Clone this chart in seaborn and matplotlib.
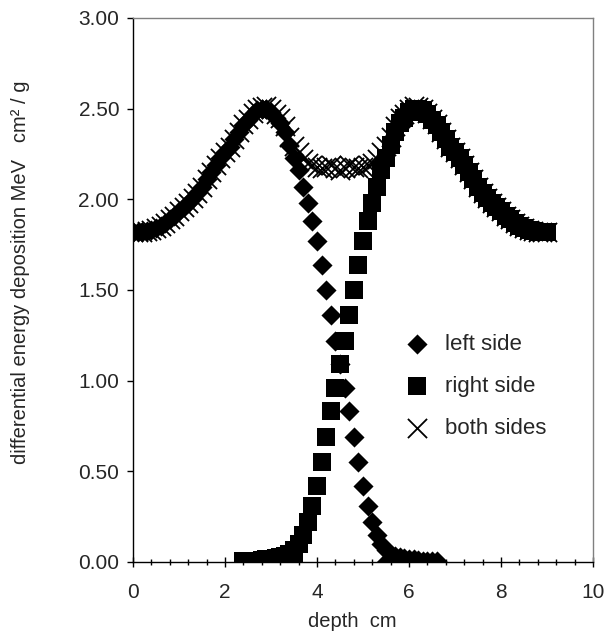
import numpy as np
import matplotlib
matplotlib.use("Agg")
import matplotlib.pyplot as plt
from matplotlib.ticker import MultipleLocator, FormatStrFormatter
import seaborn as sns

sns.set_theme(style="ticks")
plt.rcParams['font.family'] = ['Liberation Sans', 'DejaVu Sans']

#%% datos (depth en cm, energia en MeV cm2/g)

left_depth = [0.0, 0.1, 0.2, 0.3, 0.4, 0.5, 0.6, 0.7, 0.8, 0.9,
              1.0, 1.1, 1.2, 1.3, 1.4, 1.5, 1.6, 1.7, 1.8, 1.9,
              2.0, 2.1, 2.2, 2.3, 2.4, 2.5, 2.6, 2.7, 2.8, 2.9,
              3.0, 3.1, 3.2, 3.3, 3.4, 3.5, 3.6, 3.7, 3.8, 3.9,
              4.0, 4.1, 4.2, 4.3, 4.4, 4.5, 4.6, 4.7, 4.8, 4.9,
              5.0, 5.1, 5.2, 5.3, 5.4, 5.5, 5.6, 5.7, 5.8, 5.9,
              6.0, 6.1, 6.2, 6.3, 6.4, 6.5, 6.6, 5.5]
left_val = [1.82, 1.82, 1.82, 1.825, 1.83, 1.84, 1.855, 1.87, 1.89, 1.91,
            1.935, 1.955, 1.98, 2.005, 2.035, 2.07, 2.11, 2.15, 2.19, 2.23,
            2.26, 2.29, 2.33, 2.37, 2.41, 2.44, 2.47, 2.49, 2.50, 2.50,
            2.48, 2.45, 2.42, 2.37, 2.30, 2.23, 2.16, 2.07, 1.98, 1.88,
            1.77, 1.64, 1.50, 1.36, 1.22, 1.09, 0.96, 0.83, 0.69, 0.55,
            0.42, 0.31, 0.22, 0.15, 0.10, 0.065, 0.045, 0.035, 0.028, 0.022,
            0.018, 0.014, 0.011, 0.008, 0.006, 0.004, 0.003, 0.0]

right_depth = [2.4, 2.5, 2.6, 2.7, 2.8, 2.9,
               3.0, 3.1, 3.2, 3.3, 3.4, 3.5, 3.6, 3.7, 3.8, 3.9,
               4.0, 4.1, 4.2, 4.3, 4.4, 4.5, 4.6, 4.7, 4.8, 4.9,
               5.0, 5.1, 5.2, 5.3, 5.4, 5.5, 5.6, 5.7, 5.8, 5.9,
               6.0, 6.1, 6.2, 6.3, 6.4, 6.5, 6.6, 6.7, 6.8, 6.9,
               7.0, 7.1, 7.2, 7.3, 7.4, 7.5, 7.6, 7.7, 7.8, 7.9,
               8.0, 8.1, 8.2, 8.3, 8.4, 8.5, 8.6, 8.7, 8.8, 8.9,
               9.0, 3.5]
right_val = [0.003, 0.004, 0.006, 0.008, 0.011, 0.014,
             0.018, 0.022, 0.028, 0.035, 0.045, 0.065, 0.10, 0.15, 0.22, 0.31,
             0.42, 0.55, 0.69, 0.83, 0.96, 1.09, 1.22, 1.36, 1.50, 1.64,
             1.77, 1.88, 1.98, 2.07, 2.16, 2.23, 2.30, 2.37, 2.42, 2.45,
             2.48, 2.50, 2.50, 2.49, 2.47, 2.44, 2.41, 2.37, 2.33, 2.29,
             2.26, 2.23, 2.19, 2.15, 2.11, 2.07, 2.035, 2.005, 1.98, 1.955,
             1.935, 1.91, 1.89, 1.87, 1.855, 1.84, 1.83, 1.825, 1.82, 1.82,
             1.82, 0.0]

both_depth = [0.0, 0.1, 0.2, 0.3, 0.4, 0.5, 0.6, 0.7, 0.8, 0.9,
              1.0, 1.1, 1.2, 1.3, 1.4, 1.5, 1.6, 1.7, 1.8, 1.9,
              2.0, 2.1, 2.2, 2.3, 2.4, 2.5, 2.6, 2.7, 2.8, 2.9,
              3.0, 3.1, 3.2, 3.3, 3.4, 3.5, 3.6, 3.7, 3.8, 3.9,
              4.0, 4.1, 4.2, 4.3, 4.4, 4.5, 4.6, 4.7, 4.8, 4.9,
              5.0, 5.1, 5.2, 5.3, 5.4, 5.5, 5.6, 5.7, 5.8, 5.9,
              6.0, 6.1, 6.2, 6.3, 6.4, 6.5, 6.6, 6.7, 6.8, 6.9,
              7.0, 7.1, 7.2, 7.3, 7.4, 7.5, 7.6, 7.7, 7.8, 7.9,
              8.0, 8.1, 8.2, 8.3, 8.4, 8.5, 8.6, 8.7, 8.8, 8.9, 9.0]
both_val = [1.82, 1.82, 1.82, 1.825, 1.83, 1.84, 1.855, 1.87, 1.89, 1.91,
            1.935, 1.955, 1.98, 2.005, 2.035, 2.07, 2.11, 2.15, 2.19, 2.23,
            2.26, 2.29, 2.33, 2.37, 2.413, 2.444, 2.476, 2.498, 2.511, 2.514,
            2.498, 2.472, 2.448, 2.405, 2.345, 2.295, 2.26, 2.22, 2.20, 2.19,
            2.18, 2.17, 2.18, 2.19, 2.17, 2.16, 2.17, 2.19, 2.18, 2.17,
            2.18, 2.19, 2.20, 2.22, 2.26, 2.295, 2.345, 2.405, 2.448, 2.472,
            2.498, 2.514, 2.511, 2.498, 2.476, 2.444, 2.413, 2.37, 2.33, 2.29,
            2.26, 2.23, 2.19, 2.15, 2.11, 2.07, 2.035, 2.005, 1.98, 1.955,
            1.935, 1.91, 1.89, 1.87, 1.855, 1.84, 1.83, 1.825, 1.82, 1.82, 1.82]

#%% figura

fig = plt.figure(figsize=(6.06, 6.36), dpi=100)
ax = fig.add_axes([0.2195, 0.1164, 0.759, 0.8553])

sns.scatterplot(x=left_depth, y=left_val, marker="D", s=105, color="black",
                linewidth=0, label="left side", legend=False, ax=ax)
sns.scatterplot(x=right_depth, y=right_val, marker="s", s=165, color="black",
                linewidth=0, label="right side", legend=False, ax=ax)
sns.scatterplot(x=both_depth, y=both_val, marker="x", s=190, color="black",
                linewidth=1.3, label="both sides", legend=False, ax=ax)

ax.set_xlim(0, 10)
ax.set_ylim(0, 3)
ax.xaxis.set_major_locator(MultipleLocator(2))
ax.xaxis.set_minor_locator(MultipleLocator(0.4))
ax.yaxis.set_major_locator(MultipleLocator(0.5))
ax.yaxis.set_major_formatter(FormatStrFormatter('%.2f'))

ax.tick_params(axis='x', which='major', direction='inout', length=7, width=1,
               labelsize=15, pad=12, color='black')
ax.tick_params(axis='x', which='minor', direction='inout', length=4, width=1,
               color='black')
ax.tick_params(axis='y', which='major', direction='out', length=4, width=1,
               labelsize=15, pad=6, color='black')

for s in ['left', 'bottom']:
    ax.spines[s].set_color('black')
    ax.spines[s].set_linewidth(1)
for s in ['top', 'right']:
    ax.spines[s].set_color('#808080')
    ax.spines[s].set_linewidth(1)

ax.set_xlabel("depth  cm", fontsize=14.5, va='center')
ax.xaxis.set_label_coords(0.476, -0.110)
ax.set_ylabel("differential energy deposition MeV   cm\u00b2 / g", fontsize=14.5, va='center')
ax.yaxis.set_label_coords(-0.245, 0.533)

ax.legend(loc='center left', bbox_to_anchor=(0.594, 0.323), frameon=False,
          fontsize=16, borderpad=0, borderaxespad=0, handlelength=1.0,
          handletextpad=0.75, labelspacing=0.95, scatterpoints=1)

fig.savefig("out.png", dpi=100)
